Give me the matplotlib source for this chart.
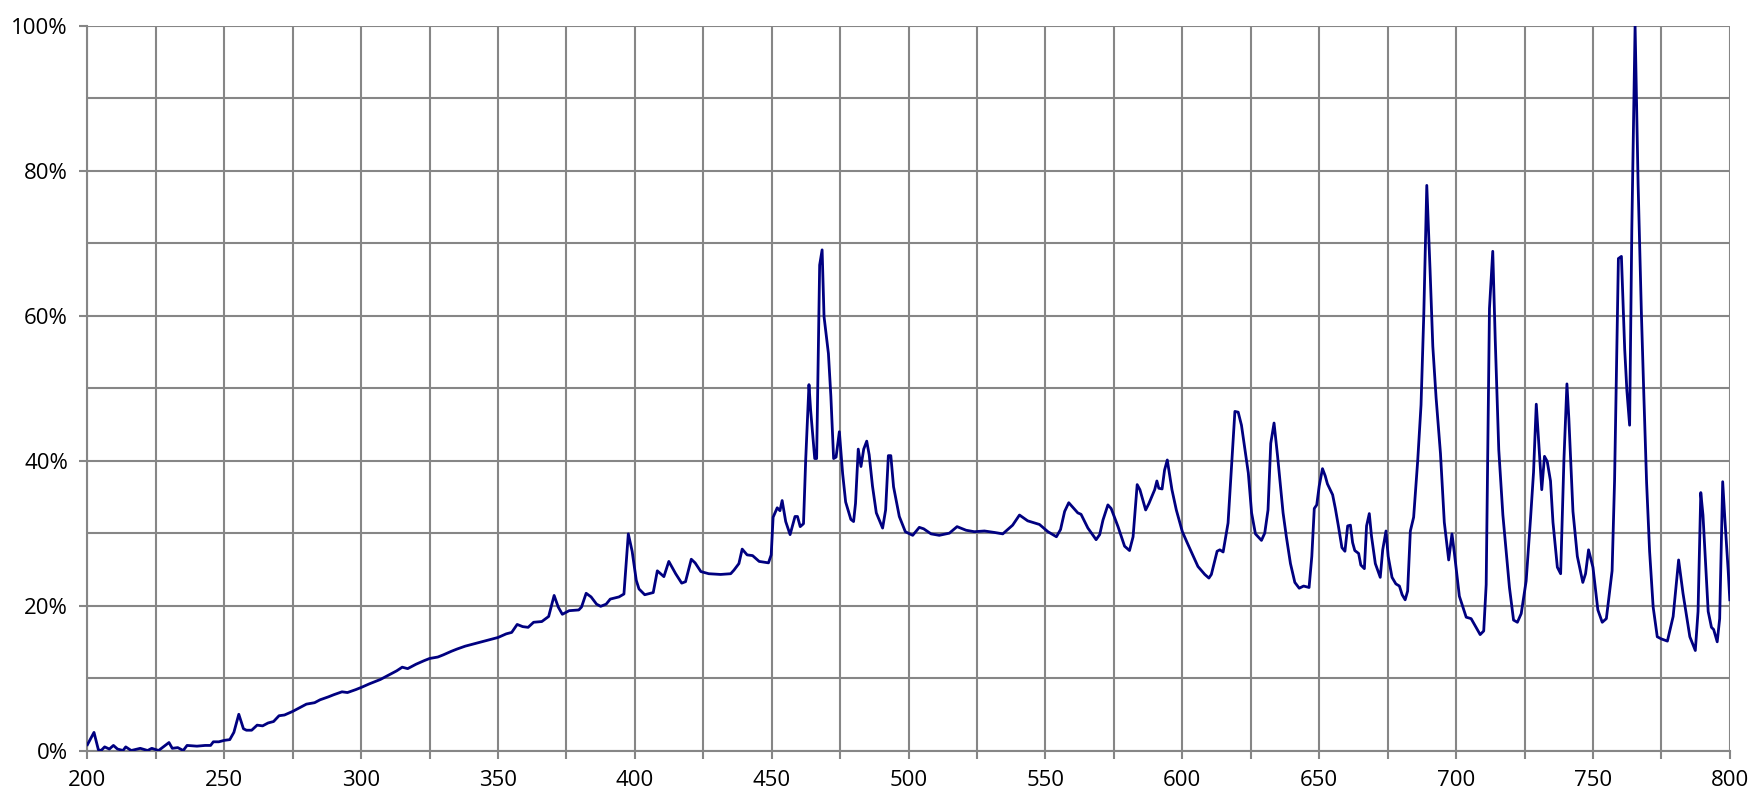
import numpy as np
import matplotlib.pyplot as plt
from matplotlib.ticker import MultipleLocator, FuncFormatter

# longitud de onda (nm) y valor relativo (%)
wl = [200, 202.4, 204, 205, 206.3, 208, 209.5, 211, 213, 214, 216, 219.3, 222, 223.5,
      226, 229.8, 231, 233, 235, 236.4, 240, 243, 245, 246, 248, 250, 252, 253.5, 255.3,
      257, 258.1, 260, 262, 264, 266, 268, 270, 272, 275, 278, 280, 283, 285, 288, 290,
      293, 295, 298, 300, 303, 305, 307, 310, 313, 315, 317, 320, 323, 325, 328, 330,
      333, 335, 338, 340, 343, 345, 348, 350, 353, 355, 357, 359, 361, 363, 366, 368.5,
      370.5, 372, 373.5, 376, 379.5, 380.5, 382.2, 384, 386, 387.5, 389.5, 391, 394.2,
      396, 397.6, 399, 400.5, 401.5, 403.6, 406.7, 408.2, 410.6, 412.4, 414.9, 417.1,
      418.5, 420.6, 422, 424.1, 427, 431.3, 435, 436.2, 438, 439.2, 441, 443, 445.4,
      448.8, 449.8, 450.5, 452, 453, 453.8, 455.1, 456.7, 458.5, 459.4, 460.4, 461.6,
      462.4, 463.6, 464.2, 465.7, 466.4, 467.5, 468.4, 469.1, 470.7, 471.6, 472.6,
      473.5, 474.7, 475.9, 477, 478.9, 479.9, 480.6, 481.6, 482.6, 483.6, 484.7, 485.6,
      486.8, 488.2, 490.5, 491.6, 492.6, 493.5, 494.5, 496.6, 498.8, 501.5, 503.9,
      505.5, 508.2, 511.2, 514.9, 517.7, 521, 524, 527.7, 531.3, 534.4, 538, 540.5,
      543.5, 547.8, 550.9, 554, 555.5, 557, 558.5, 561.8, 563, 565.5, 568.5, 569.8, 571,
      572.8, 574, 576.5, 578.9, 580.7, 582, 583.5, 584.5, 586.6, 587.8, 589.9, 590.7,
      591.4, 592.6, 593.5, 594.5, 596.2, 597.8, 600, 602.1, 605.7, 608.2, 609.7, 610.6,
      612.7, 613.7, 614.9, 616.7, 619.2, 620.4, 621.6, 624.1, 625.3, 626.7, 628.9,
      630.1, 631.3, 632.3, 633.5, 634.8, 636.8, 638, 639.5, 641.1, 642.7, 644.3, 646.3,
      647.3, 648.2, 649.1, 650, 651.2, 652.2, 653, 654.9, 655.9, 657, 658.3, 659.4,
      660.4, 661.4, 662.2, 663, 664.4, 665.2, 666.5, 667.3, 668.3, 669.1, 670.5, 672.3,
      673.2, 674.4, 675.2, 676.6, 678, 679.3, 680.3, 681.4, 682.3, 683.3, 684.5, 686,
      687.2, 688.2, 689.3, 690.5, 691.5, 692.7, 694.3, 695.7, 697.3, 698.5, 699.4,
      701.2, 703.7, 705.5, 707.3, 708.8, 710.1, 711, 712.2, 713.4, 714.3, 715.6, 717.1,
      719.5, 721, 722.4, 723.8, 725.6, 727.2, 728.3, 729.3, 730.5, 731.3, 732.3, 733.3,
      734.5, 735.4, 737, 738.2, 739.4, 740.5, 741.2, 742.7, 744.3, 746.3, 747.3, 748.4,
      750, 751.8, 753.4, 754.9, 757, 757.9, 759.3, 760.4, 761.6, 762.4, 763.4, 764.2,
      765.4, 766.5, 767.7, 768.6, 769.6, 770.7, 772, 773.5, 775, 777.2, 779.3, 781.3,
      782.9, 785.4, 787.4, 788.4, 789.4, 790.2, 792.1, 793.3, 794.1, 795.4, 796.3,
      797.4, 798.2, 799.4, 800]
valor = [0.8, 2.5, 0.1, 0.0, 0.5, 0.2, 0.7, 0.2, 0.0, 0.5, 0.0, 0.3, 0.0, 0.3,
         0.0, 1.1, 0.3, 0.4, 0.0, 0.7, 0.6, 0.7, 0.7, 1.2, 1.2, 1.4, 1.5, 2.5, 5.0,
         3.0, 2.8, 2.8, 3.5, 3.4, 3.8, 4.0, 4.8, 4.9, 5.4, 6.0, 6.4, 6.6, 7.0, 7.4, 7.7,
         8.1, 8.0, 8.4, 8.7, 9.2, 9.5, 9.8, 10.4, 11.0, 11.5, 11.3, 11.9, 12.4, 12.7, 12.9, 13.2,
         13.7, 14.0, 14.4, 14.6, 14.9, 15.1, 15.4, 15.6, 16.1, 16.3, 17.4, 17.1, 17.0, 17.7, 17.8, 18.5,
         21.4, 19.8, 18.8, 19.3, 19.4, 19.8, 21.7, 21.2, 20.2, 19.9, 20.2, 20.9, 21.2,
         21.6, 29.9, 27.5, 23.5, 22.3, 21.5, 21.8, 24.8, 24.0, 26.1, 24.4, 23.1,
         23.3, 26.4, 25.9, 24.7, 24.4, 24.3, 24.4, 24.9, 25.8, 27.8, 27.0, 26.9, 26.1,
         25.9, 27.0, 32.2, 33.5, 33.1, 34.5, 31.6, 29.8, 32.3, 32.3, 30.9, 31.3,
         40.1, 50.5, 47.0, 40.3, 40.3, 67.0, 69.1, 59.9, 54.8, 48.9, 40.3,
         40.5, 44.0, 38.2, 34.3, 31.9, 31.6, 34.1, 41.6, 39.2, 41.6, 42.7, 40.8,
         36.5, 32.8, 30.7, 33.2, 40.7, 40.7, 36.4, 32.3, 30.2, 29.7, 30.8,
         30.6, 29.9, 29.7, 30.0, 30.9, 30.4, 30.2, 30.3, 30.1, 29.9, 31.1, 32.5,
         31.7, 31.2, 30.2, 29.5, 30.5, 33.0, 34.2, 32.8, 32.6, 30.7, 29.1, 29.8, 31.8,
         33.9, 33.4, 30.9, 28.2, 27.6, 29.5, 36.7, 36.0, 33.2, 34.1, 36.0, 37.2,
         36.2, 36.1, 38.7, 40.1, 36.0, 33.2, 30.2, 28.4, 25.4, 24.3, 23.8, 24.3,
         27.5, 27.7, 27.4, 31.4, 46.8, 46.7, 44.9, 38.3, 32.8, 29.9, 29.0,
         30.0, 33.2, 42.4, 45.2, 40.6, 32.8, 29.5, 25.8, 23.2, 22.4, 22.7, 22.5,
         26.8, 33.4, 33.9, 36.5, 38.9, 37.9, 36.8, 35.3, 33.4, 31.0, 28.0, 27.5,
         31.0, 31.1, 28.7, 27.6, 27.2, 25.6, 25.1, 31.0, 32.7, 29.6, 25.8, 23.9,
         27.7, 30.3, 26.8, 23.9, 23.0, 22.7, 21.5, 20.8, 22.0, 30.3, 32.2, 40.1,
         47.7, 60.1, 78.0, 66.3, 55.8, 48.7, 41.0, 31.5, 26.3, 29.9, 27.2,
         21.3, 18.4, 18.2, 17.0, 16.0, 16.5, 22.9, 61.0, 68.9, 56.8, 41.5, 32.5,
         22.5, 18.0, 17.7, 18.9, 23.4, 32.0, 38.4, 47.8, 40.6, 36.0, 40.6, 39.9,
         37.2, 31.5, 25.3, 24.4, 40.1, 50.6, 45.8, 33.0, 26.8, 23.2, 24.4, 27.7,
         25.3, 19.4, 17.7, 18.2, 24.8, 37.2, 67.9, 68.2, 55.4, 49.7, 44.9, 71.9,
         100.0, 78.2, 60.4, 49.0, 37.0, 27.5, 19.8, 15.7, 15.4, 15.1, 18.5, 26.3,
         21.7, 15.7, 13.8, 19.2, 35.6, 32.5, 19.2, 17.0, 16.7, 15.0, 18.2,
         37.1, 31.9, 24.9, 20.8]

x_labels = [200, 250, 300, 350, 400, 450, 500, 550, 600, 650, 700, 750, 800]
y_labels = [0, 20, 40, 60, 80, 100]

plt.rcParams['font.family'] = ['Open Sans', 'DejaVu Sans']

fig = plt.figure(figsize=(17.59, 8.05), dpi=100)
ax = fig.add_axes([0.0497, 0.0677, 0.9337, 0.9])

grid_color = '#868686'
ax.plot(wl, valor, color='#000080', lw=2.0, zorder=3)

ax.set_xlim(200, 800)
ax.set_ylim(0, 100)
ax.set_xticks(x_labels)
ax.xaxis.set_minor_locator(MultipleLocator(25))
ax.set_yticks(y_labels)
ax.yaxis.set_minor_locator(MultipleLocator(10))
ax.yaxis.set_major_formatter(FuncFormatter(lambda v, p: '%d%%' % v))

ax.grid(which='both', color=grid_color, lw=1.5)
ax.set_axisbelow(True)
ax.tick_params(axis='x', which='both', length=6, width=1.5, color=grid_color,
               labelsize=16, pad=8)
ax.tick_params(axis='y', which='major', length=6, width=1.5, color=grid_color,
               labelsize=16, pad=8)
ax.tick_params(axis='y', which='minor', length=0)

for s in ['top', 'right']:
    ax.spines[s].set_visible(False)
for s in ['left', 'bottom']:
    ax.spines[s].set_color(grid_color)
    ax.spines[s].set_linewidth(1.5)

fig.savefig('out.png', dpi=100)
